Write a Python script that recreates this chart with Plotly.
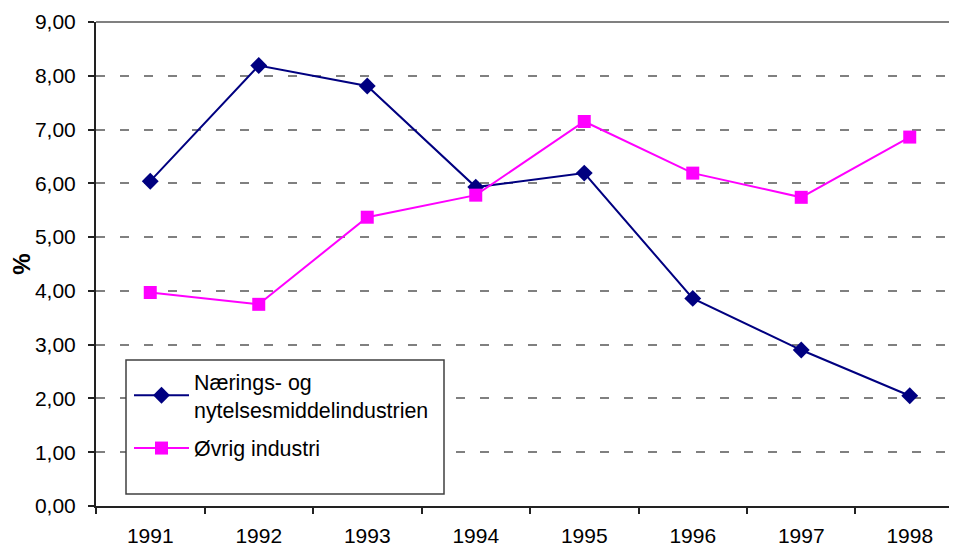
import plotly.graph_objects as go

years = ["1991", "1992", "1993", "1994", "1995", "1996", "1997", "1998"]
naering = [6.04, 8.19, 7.81, 5.93, 6.19, 3.86, 2.90, 2.05]
ovrig = [3.97, 3.75, 5.37, 5.78, 7.15, 6.19, 5.74, 6.86]
y_ticks = [0, 1, 2, 3, 4, 5, 6, 7, 8, 9]
series_names = ["Nærings- og<br>nytelsesmiddelindustrien", "Øvrig industri"]

FONT = "Liberation Sans, Arial, sans-serif"

fig = go.Figure()
fig.add_trace(go.Scatter(
    x=years, y=naering, name=series_names[0], mode="lines+markers",
    legendgroup="a",
    line=dict(color="#000080", width=2),
    marker=dict(symbol="diamond", size=13, color="#000080"),
))
fig.add_trace(go.Scatter(
    x=years, y=ovrig, name=series_names[1], mode="lines+markers",
    legendgroup="b",
    line=dict(color="#FF00FF", width=2),
    marker=dict(symbol="square", size=13, color="#FF00FF"),
))

# page body has an 8px default margin; compensate so the plot lands where intended
OFF = 8
W, H = 957 - OFF, 548 - OFF
ml, mr, mt, mb = 96 - OFF, 0, 22 - OFF, 548 - 506
PW = W - ml - mr
PH = H - mt - mb

fig.update_layout(
    width=W, height=H,
    margin=dict(l=ml, r=mr, t=mt, b=mb, pad=0, autoexpand=False),
    paper_bgcolor="white", plot_bgcolor="white",
    separators=", ",
    font=dict(family=FONT, size=21, color="black"),
    showlegend=True,
    legend=dict(
        x=(129 - 96) / PW, y=(506 - 361) / PH,
        xanchor="left", yanchor="top",
        bgcolor="rgba(0,0,0,0)", borderwidth=0,
        font=dict(family=FONT, size=21.4, color="black"),
        itemwidth=55, tracegroupgap=8,
    ),
    shapes=[
        dict(type="rect", xref="paper", yref="paper",
             x0=(126 - 96) / PW, x1=(444 - 96) / PW,
             y0=(506 - 494) / PH, y1=(506 - 360) / PH,
             line=dict(color="#404040", width=1.5), fillcolor="white", layer="above"),
        dict(type="line", xref="paper", yref="paper", x0=0, x1=1, y0=1, y1=1,
             line=dict(color="#808080", width=2), layer="above"),
    ],
)

fig.update_xaxes(
    type="category", range=[-0.5, 7.5 - 7 / 108.6], automargin=False,
    showline=True, linecolor="#222222", linewidth=2,
    ticks="outside", ticklen=6, tickcolor="#222222", tickwidth=1.5,
    tickson="boundaries", showgrid=False, zeroline=False,
    ticklabelstandoff=10,
    tickfont=dict(family=FONT, size=21, color="black"),
)
fig.update_yaxes(
    range=[0, 9], tickvals=y_ticks, tickformat=".2f", automargin=False,
    showline=True, linecolor="#222222", linewidth=2,
    ticks="outside", ticklen=6, tickcolor="#222222", tickwidth=1.5,
    showgrid=True, gridcolor="#808080", gridwidth=1.5, griddash="9px,15px",
    zeroline=False, ticklabelstandoff=8,
    tickfont=dict(family=FONT, size=21, color="black"),
    title=dict(text="<b>%</b>", font=dict(family=FONT, size=24, color="black"), standoff=7),
)

fig.write_html("out.html")
